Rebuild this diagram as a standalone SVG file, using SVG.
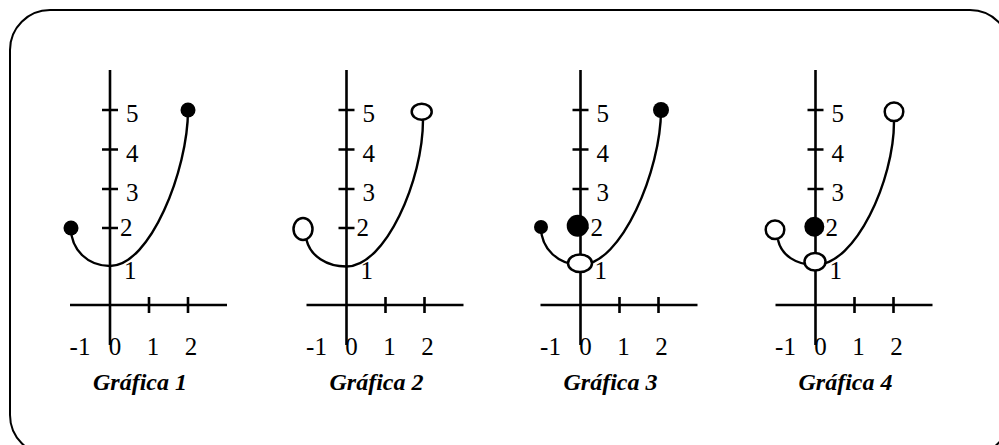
<svg xmlns="http://www.w3.org/2000/svg" width="999" height="445" viewBox="0 0 999 445">
<style>
.ln{stroke:#000;stroke-width:2.6;fill:none}
.cv{stroke:#000;stroke-width:2.4;fill:none}
.dot{fill:#000}
.open{fill:#fff;stroke:#000;stroke-width:2.5}
.t{font-family:"Liberation Serif","Times New Roman",serif;font-size:25px;fill:#000}
.c{text-anchor:middle}
.ttl{font-family:"Liberation Serif","Times New Roman",serif;font-size:24px;font-weight:bold;font-style:italic;text-anchor:middle;fill:#000}
</style>
<defs>
<g id="axes">
<path class="ln" d="M0,70V345M-40,305H117M39,297V313M78,297V313M-8,110H8M-8,149.5H8M-8,189H8M-8,228H8"/>
<text class="t" x="16" y="122">5</text>
<text class="t" x="16" y="161.5">4</text>
<text class="t" x="16" y="201">3</text>
<text class="t" x="10" y="236">2</text>
<text class="t" x="14" y="279">1</text>
<text class="t c" x="-30" y="355">-1</text>
<text class="t c" x="5" y="355">0</text>
<text class="t c" x="43" y="355">1</text>
<text class="t c" x="81" y="355">2</text>
</g>
</defs>
<rect id="frame" x="10" y="10" width="1000" height="445" rx="40" ry="40" fill="none" stroke="#000" stroke-width="2"/>
<g id="grafica1" transform="translate(110,0)">
<use href="#axes"/>
<path class="cv" d="M-39,228C-39,250 -22,266 0,266C40,266 78,170 78,110"/>
<circle class="dot" cx="-39" cy="228" r="7.5"/>
<circle class="dot" cx="78" cy="110" r="7.5"/>
<text class="ttl" x="30" y="390">Gráfica 1</text>
</g>
<g id="grafica2" transform="translate(346.5,0)">
<use href="#axes"/>
<path class="cv" d="M-40,240C-36,256 -20,266.5 0,266.5C39,266.5 76.5,180 76.5,120"/>
<ellipse class="open" cx="-43.5" cy="229" rx="9.5" ry="11"/>
<ellipse class="open" cx="75.2" cy="111.7" rx="10" ry="8"/>
<text class="ttl" x="30" y="390">Gráfica 2</text>
</g>
<g id="grafica3" transform="translate(580.5,0)">
<use href="#axes"/>
<path class="cv" d="M-39.5,227C-39.5,249 -22,265 0,265C41,265 80.5,170 80.5,110"/>
<circle class="dot" cx="-39.5" cy="227" r="7"/>
<circle class="dot" cx="80.5" cy="110" r="8"/>
<circle class="dot" cx="-2.8" cy="225.7" r="11"/>
<ellipse class="open" cx="-0.5" cy="263.3" rx="12" ry="8.8"/>
<text class="ttl" x="30" y="390">Gráfica 3</text>
</g>
<g id="grafica4" transform="translate(815.5,0)">
<use href="#axes"/>
<path class="cv" d="M-37.5,240C-34,255 -20,265 0,265C40,265 78.5,180 78.5,121.7"/>
<circle class="open" cx="-40.5" cy="229.7" r="9.3"/>
<circle class="open" cx="78.5" cy="111.7" r="9.3"/>
<circle class="dot" cx="-1.2" cy="226.7" r="10"/>
<ellipse class="open" cx="-0.5" cy="261.7" rx="10.5" ry="8.8"/>
<text class="ttl" x="30" y="390">Gráfica 4</text>
</g>
</svg>
